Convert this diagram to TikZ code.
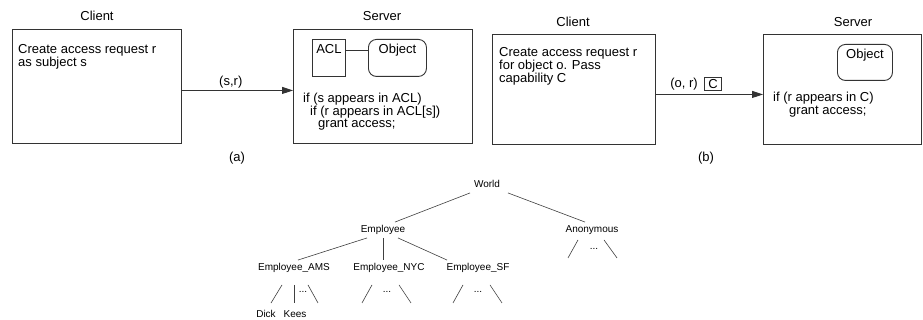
\documentclass[tikz,border=0pt]{standalone}
\usepackage{fontspec}
\setmainfont{Liberation Sans}
\usetikzlibrary{arrows.meta,positioning}

\tikzset{
  frame/.style={draw=black!80, line width=0.9pt, anchor=north west, inner sep=0pt},
  heading/.style={font=\fontsize{13}{15}\selectfont, inner sep=0pt},
  body/.style={font=\fontsize{13}{13}\selectfont, align=left, anchor=north west, inner sep=0pt},
  part/.style={draw=black!80, line width=0.9pt, anchor=north west, inner xsep=0pt, inner ysep=4pt,
    font=\fontsize{13}{15}\selectfont, text height=10pt, text depth=19pt},
  request/.style={draw=black!80, line width=0.9pt, -{Triangle[length=11pt,width=7pt]}},
  member/.style={font=\fontsize{10}{12}\selectfont, inner xsep=1pt, inner ysep=3pt,
    text height=7.5pt, text depth=2pt},
  branch/.style={draw=black!75, line width=0.6pt},
}

\begin{document}
\begin{tikzpicture}[x=1pt,y=-1pt]

    \path[use as bounding box, fill=white] (0,0) rectangle (923,320);

    % (a) access control list
    \node[heading] (clienta) at (97,16) {Client};
    \node[frame, minimum width=169pt, minimum height=114pt] (ca) at (12,29) {};
    \node[body] (catext) at (18,44) {Create access request r\\as subject s};

    \node[heading] (servera) at (382,16) {Server};
    \node[frame, minimum width=179pt, minimum height=114pt] (sa) at (293,29) {};
    \node[part, minimum width=33pt] (acl) at (312,39) {ACL};
    \node[part, minimum width=58pt, rounded corners=8pt] (obja) at (368,39) {Object};
    \draw[draw=black!80, line width=0.9pt] (acl.mid east) -- (obja.mid west);
    \node[body, font=\fontsize{13}{12}\selectfont] (satext) at (303,93)
      {if (s appears in ACL)\\\hspace*{7pt}if (r appears in ACL[s])\\\hspace*{15pt}grant access;};

    \draw[request] ([yshift=-4pt]ca.east) -- node[heading, above=2pt, pos=0.44] (sr) {(s,r)} ([yshift=-4pt]sa.west);
    \node[heading] (capa) at (237,158) {(a)};

    % (b) capability
    \node[heading] (clientb) at (573,22) {Client};
    \node[frame, minimum width=163pt, minimum height=110pt] (cb) at (492,34) {};
    \node[body] (cbtext) at (499,47) {Create access request r\\for object o. Pass\\capability C};

    \node[heading] (serverb) at (853,22) {Server};
    \node[frame, minimum width=158pt, minimum height=110pt] (sb) at (763,34) {};
    \node[part, minimum width=55pt, text depth=18pt, rounded corners=8pt] (objb) at (837,44) {Object};
    \node[body] (sbtext) at (773,92) {if (r appears in C)\\\hspace*{16pt}grant access;};

    \draw[request] ([yshift=-5pt]cb.east) -- ([yshift=-5pt]sb.west);
    \node[heading] (or) at (684,84) {(o, r)};
    \node[heading, draw=black!80, line width=0.8pt, inner xsep=4pt, inner ysep=1.5pt, right=6pt of or] (cap) {C};
    \node[heading] (capb) at (706,158) {(b)};

    % role hierarchy
    \node[member] (world) at (487,185) {World};
    \node[member] (emp) at (383,230) {Employee};
    \node[member] (anon) at (592,230) {Anonymous};
    \node[member] (ams) at (294,268) {Employee\_AMS};
    \node[member] (nyc) at (389,268) {Employee\_NYC};
    \node[member] (sf) at (478,268) {Employee\_SF};
    \node[member] (dick) at (266,315) {Dick};
    \node[member] (kees) at (295,315) {Kees};

    \draw[branch] ([xshift=-17pt]world.south) -- ([xshift=12pt]emp.north);
    \draw[branch] ([xshift=21pt]world.south) -- ([xshift=-7pt]anon.north);
    \draw[branch] ([xshift=-16pt]emp.south) -- ([xshift=4pt]ams.north);
    \draw[branch] (emp.south) -- (emp.south |- nyc.north);
    \draw[branch] ([xshift=15pt]emp.south) -- ([xshift=-31pt]sf.north);

    \draw[branch] ([shift={(-12,9)}]ams.south) -- ([shift={(5,-4)}]dick.north);
    \draw[branch] ([shift={(0,9)}]ams.south) -- ([shift={(-1,-4)}]kees.north);
    \node[member] (amsdots) at (303,290) {...};
    \draw[branch] ([shift={(14,9)}]ams.south) -- ++(10,18) coordinate (amsend);

    \draw[branch] ([shift={(-17,9)}]nyc.south) -- ++(-10,18) coordinate (nycleft);
    \node[member] (nycdots) at (387,290) {...};
    \draw[branch] ([shift={(10,9)}]nyc.south) -- ++(12,18) coordinate (nycright);

    \draw[branch] ([shift={(-15,9)}]sf.south) -- ++(-10,18) coordinate (sfleft);
    \node[member] (sfdots) at (478,290) {...};
    \draw[branch] ([shift={(12,9)}]sf.south) -- ++(12,18) coordinate (sfright);

    \draw[branch] ([shift={(-14,2)}]anon.south) -- ++(-10,18) coordinate (anonleft);
    \node[member] (anondots) at (594,247) {...};
    \draw[branch] ([shift={(12,2)}]anon.south) -- ++(13,18) coordinate (anonright);

\end{tikzpicture}
\end{document}
